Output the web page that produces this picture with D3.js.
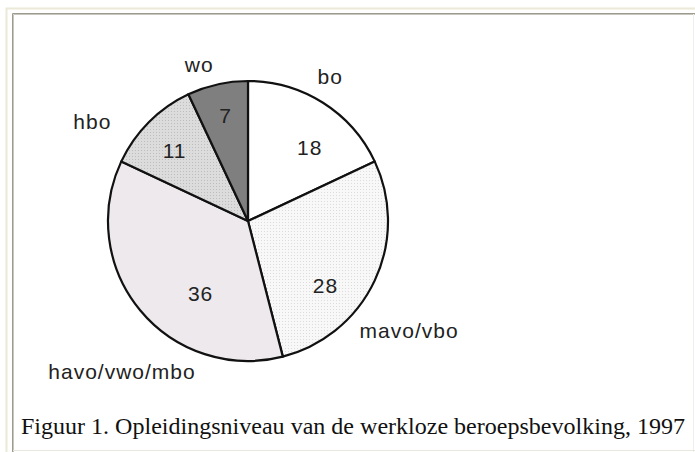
<!DOCTYPE html>
<html>
<head>
<meta charset="utf-8">
<script src="https://cdn.jsdelivr.net/npm/d3@7"></script>
<style>
  html, body { margin: 0; padding: 0; background: #fff; }
  svg { display: block; }
  .sans { font-family: "Liberation Sans", Arial, sans-serif; }
  .serif { font-family: "Liberation Serif", "Times New Roman", serif; }
</style>
</head>
<body>
<svg id="chart" width="695" height="452"></svg>
<script>
// ---- data ----
const categories = ["bo", "mavo/vbo", "havo/vwo/mbo", "hbo", "wo"];
const values = [18, 28, 36, 11, 7];
const caption = "Figuur 1. Opleidingsniveau van de werkloze beroepsbevolking, 1997";

// ---- styling / layout ----
const W = 695, H = 452;
const cx = 248, cy = 221, R = 140;
const fills = ["#ffffff", "url(#dotsLight)", "#ede9ed", "url(#dotsGray)", "#7f7f7f"];
// label placement in polar coords (degrees clockwise from 12 o'clock, radius)
const valuePolar = [[40, 96], [130, 101], [213, 87], [314, 102], [348, 108]];
const namePolar  = [[29.7, 166], [124.3, 195], [220, 196], [302.7, 185], [342.7, 164]];

const svg = d3.select("#chart");

const defs = svg.append("defs");
const p1 = defs.append("pattern").attr("id", "dotsLight").attr("width", 3).attr("height", 3)
  .attr("patternUnits", "userSpaceOnUse");
p1.append("rect").attr("width", 3).attr("height", 3).attr("fill", "#f8f8f8");
p1.append("rect").attr("x", 1).attr("y", 1).attr("width", 1).attr("height", 1).attr("fill", "#dcdcdc");
const p2 = defs.append("pattern").attr("id", "dotsGray").attr("width", 3).attr("height", 3)
  .attr("patternUnits", "userSpaceOnUse");
p2.append("rect").attr("width", 3).attr("height", 3).attr("fill", "#dcdcdc");
p2.append("rect").attr("x", 1).attr("y", 1).attr("width", 1).attr("height", 1).attr("fill", "#bdbdbd");

// page frame
svg.append("rect").attr("x", 0).attr("y", 0).attr("width", W).attr("height", H).attr("fill", "#fff");
svg.append("path").attr("d", `M6.5,${H} V8.5 H${W}`).attr("fill", "none").attr("stroke", "#ece9d8").attr("stroke-width", 2);
svg.append("path").attr("d", `M12.5,${H} V13.5 H${W}`).attr("fill", "none").attr("stroke", "#9d9a90").attr("stroke-width", 1);
svg.append("path").attr("d", `M13.5,${H} V14.5 H${W}`).attr("fill", "none").attr("stroke", "#c8c6bd").attr("stroke-width", 1);
svg.append("path").attr("d", `M${W - 1.5},14 V${H}`).attr("fill", "none").attr("stroke", "#f0efea").attr("stroke-width", 1);
svg.append("path").attr("d", `M13,${H - 1.5} H${W}`).attr("fill", "none").attr("stroke", "#e8e6df").attr("stroke-width", 1);

// pie
const pie = d3.pie().sort(null).value(d => d.v).startAngle(0).endAngle(2 * Math.PI);
const arcs = pie(categories.map((c, i) => ({ c, v: values[i], i })));
const arc = d3.arc().innerRadius(0).outerRadius(R);

const g = svg.append("g").attr("transform", `translate(${cx},${cy})`);
g.selectAll("path.slice").data(arcs).enter().append("path")
  .attr("class", "slice")
  .attr("d", arc)
  .attr("fill", d => fills[d.data.i])
  .attr("stroke", "#111")
  .attr("stroke-width", 2.2)
  .attr("stroke-linejoin", "round");

function polar(p) {
  const a = p[0] * Math.PI / 180;
  return [p[1] * Math.sin(a), -p[1] * Math.cos(a)];
}

g.selectAll("text.val").data(arcs).enter().append("text")
  .attr("class", "val sans")
  .attr("transform", d => `translate(${polar(valuePolar[d.data.i])})`)
  .attr("text-anchor", "middle")
  .attr("dominant-baseline", "central")
  .attr("font-size", 21)
  .attr("letter-spacing", 1)
  .attr("fill", "#222")
  .text(d => d.data.v);

g.selectAll("text.name").data(arcs).enter().append("text")
  .attr("class", "name sans")
  .attr("transform", d => `translate(${polar(namePolar[d.data.i])})`)
  .attr("text-anchor", "middle")
  .attr("dominant-baseline", "central")
  .attr("font-size", 21)
  .attr("letter-spacing", 1)
  .attr("fill", "#222")
  .text(d => d.data.c);

// caption
svg.append("text")
  .attr("class", "serif")
  .attr("x", 21).attr("y", 434)
  .attr("font-size", 24)
  .attr("fill", "#111")
  .attr("textLength", 664)
  .attr("lengthAdjust", "spacingAndGlyphs")
  .text(caption);
</script>
</body>
</html>
